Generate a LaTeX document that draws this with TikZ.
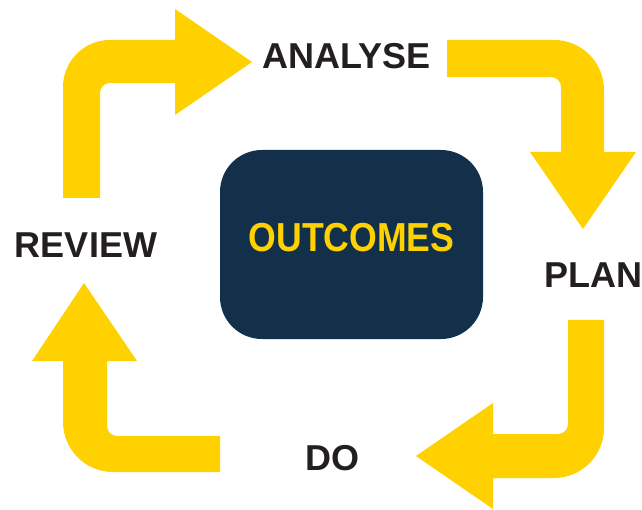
\documentclass[tikz,border=0pt]{standalone}
\usepackage{fontspec}
\setmainfont{Liberation Sans}
\newfontfamily\narrowfont[FakeStretch=0.88]{Liberation Sans}
\definecolor{cycleyellow}{HTML}{FFD100}
\definecolor{boxnavy}{HTML}{12304A}
\definecolor{labelblack}{HTML}{231F20}
\tikzset{
  arrowfill/.style={fill=cycleyellow},
  steplabel/.style={font=\bfseries\fontsize{36}{40}\selectfont, text=labelblack, inner sep=0pt},
  outbox/.style={rectangle, rounded corners=42pt, fill=boxnavy, minimum width=263pt,
    minimum height=189pt, inner sep=0pt, text=cycleyellow, text depth=14pt,
    font=\narrowfont\bfseries\fontsize{40.5}{44}\selectfont}
}

\begin{document}
\begin{tikzpicture}[x=1pt,y=1pt]
                \useasboundingbox (0,0) rectangle (642,509);
                % top left
                \fill[arrowfill] (63,311) -- (63,422) arc[start angle=180,end angle=90,radius=47]
                    -- (175,469) -- (175,500) -- (252,447) -- (175,394) -- (175,426) -- (110,426)
                    arc[start angle=90,end angle=180,radius=10] -- (100,311) -- cycle;
                % top right
                \fill[arrowfill] (447,469) -- (554,469) arc[start angle=90,end angle=0,radius=50]
                    -- (604,357) -- (636,357) -- (583,280) -- (530,357) -- (561,357) -- (561,422)
                    arc[start angle=0,end angle=90,radius=10] -- (447,432) -- cycle;
                % bottom right
                \fill[arrowfill] (604,189) -- (604,81) arc[start angle=0,end angle=-90,radius=50]
                    -- (493,31) -- (493,0) -- (416,53) -- (493,106) -- (493,75) -- (558,75)
                    arc[start angle=-90,end angle=0,radius=10] -- (568,189) -- cycle;
                % bottom left
                \fill[arrowfill] (220,37) -- (113,37) arc[start angle=-90,end angle=-180,radius=50]
                    -- (63,148) -- (32,148) -- (84,226) -- (137,148) -- (107,148) -- (107,83)
                    arc[start angle=180,end angle=270,radius=10] -- (220,73) -- cycle;

                \node[outbox] (outcomes) at (351.5,264.5) {OUTCOMES};
                \node[steplabel] (analyse) at (346.5,452.5) {ANALYSE};
                \node[steplabel, anchor=west] (plan) at (544,234) {PLAN};
                \node[steplabel] (do) at (332.5,51) {DO};
                \node[steplabel] (review) at (86,264) {REVIEW};
            \end{tikzpicture}
\end{document}
